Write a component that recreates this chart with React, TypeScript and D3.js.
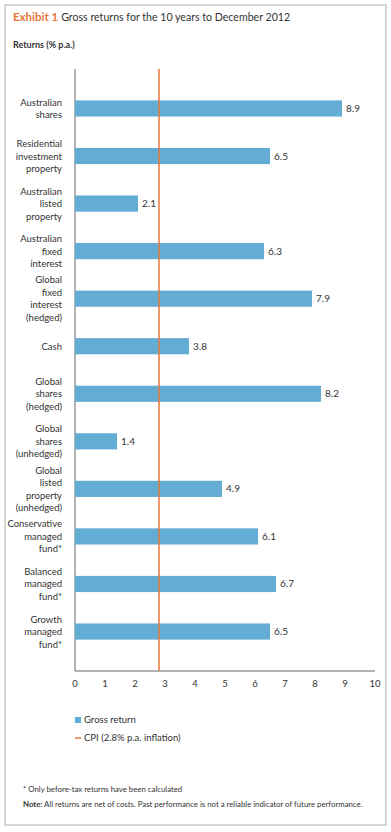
import React, { useEffect, useRef } from "react";
import * as d3 from "d3";

const categories = [
  ["Australian", "shares"],
  ["Residential", "investment", "property"],
  ["Australian", "listed", "property"],
  ["Australian", "fixed", "interest"],
  ["Global", "fixed", "interest", "(hedged)"],
  ["Cash"],
  ["Global", "shares", "(hedged)"],
  ["Global", "shares", "(unhedged)"],
  ["Global", "listed", "property", "(unhedged)"],
  ["Conservative", "managed", "fund*"],
  ["Balanced", "managed", "fund*"],
  ["Growth", "managed", "fund*"],
];
const grossReturns = [8.9, 6.5, 2.1, 6.3, 7.9, 3.8, 8.2, 1.4, 4.9, 6.1, 6.7, 6.5];
const xTicks = [0, 1, 2, 3, 4, 5, 6, 7, 8, 9, 10];
const cpi = 2.8;

const W = 391;
const H = 832;
const BLUE = "#63acd4";
const ORANGE = "#e8773a";
const FONT = "Lato, sans-serif";

const App = () => {
  const ref = useRef<SVGSVGElement>(null);

  useEffect(() => {
    const svg = d3.select(ref.current);
    svg.selectAll("*").remove();

    // frame
    svg.append("rect")
      .attr("x", 5).attr("y", 5).attr("width", 381).attr("height", 820)
      .attr("fill", "#fff").attr("stroke", "#c8c8c8").attr("stroke-width", 1.5);

    // title
    const title = svg.append("text").attr("x", 13).attr("y", 21)
      .attr("font-family", FONT).attr("font-size", 10.6).attr("fill", "#333");
    title.append("tspan").attr("fill", ORANGE).attr("font-weight", "bold").attr("font-size", 11.5).text("Exhibit 1");
    title.append("tspan").attr("dx", 3).text("Gross returns for the 10 years to December 2012");

    svg.append("text").attr("x", 13).attr("y", 48)
      .attr("font-family", FONT).attr("font-size", 9).attr("font-weight", "bold")
      .attr("fill", "#333").text("Returns (% p.a.)");

    const x = d3.scaleLinear().domain([0, 10]).range([75, 375]);
    const y = d3.scaleBand<number>()
      .domain(d3.range(categories.length))
      .range([69, 671])
      .padding(0.66);

    // axes lines
    svg.append("line").attr("x1", x(0)).attr("x2", x(0)).attr("y1", 69).attr("y2", 671)
      .attr("stroke", "#666").attr("stroke-width", 1);
    svg.append("line").attr("x1", x(0)).attr("x2", x(10)).attr("y1", 671).attr("y2", 671)
      .attr("stroke", "#666").attr("stroke-width", 1);

    svg.append("g").selectAll("text").data(xTicks).join("text")
      .attr("x", (d) => x(d)).attr("y", 687)
      .attr("text-anchor", "middle")
      .attr("font-family", FONT).attr("font-size", 9.5).attr("fill", "#333")
      .text((d) => d);

    // bars
    svg.append("g").selectAll("rect").data(grossReturns).join("rect")
      .attr("x", x(0))
      .attr("y", (_, i) => y(i)!)
      .attr("width", (d) => x(d) - x(0))
      .attr("height", y.bandwidth())
      .attr("fill", BLUE);

    svg.append("g").selectAll("text").data(grossReturns).join("text")
      .attr("x", (d) => x(d) + 4)
      .attr("y", (_, i) => y(i)! + y.bandwidth() / 2 + 3.5)
      .attr("font-family", FONT).attr("font-size", 10).attr("fill", "#333")
      .text((d) => d.toFixed(1));

    // category labels
    const lh = 12.5;
    categories.forEach((lines, i) => {
      const cy = y(i)! + y.bandwidth() / 2;
      const t = svg.append("text")
        .attr("text-anchor", "end")
        .attr("font-family", FONT).attr("font-size", 9.5).attr("fill", "#333");
      lines.forEach((l, j) => {
        t.append("tspan").attr("x", 62)
          .attr("y", cy + (j - (lines.length - 1) / 2) * lh + 3.5)
          .text(l);
      });
    });

    // CPI line
    svg.append("line").attr("x1", x(cpi)).attr("x2", x(cpi)).attr("y1", 69).attr("y2", 671)
      .attr("stroke", ORANGE).attr("stroke-width", 1.5);

    // legend
    svg.append("rect").attr("x", 75).attr("y", 717).attr("width", 6).attr("height", 6).attr("fill", BLUE);
    svg.append("text").attr("x", 84).attr("y", 723)
      .attr("font-family", FONT).attr("font-size", 9.5).attr("fill", "#333").text("Gross return");
    svg.append("line").attr("x1", 75).attr("x2", 81).attr("y1", 738).attr("y2", 738)
      .attr("stroke", ORANGE).attr("stroke-width", 1.5);
    svg.append("text").attr("x", 84).attr("y", 741)
      .attr("font-family", FONT).attr("font-size", 9.5).attr("fill", "#333").text("CPI (2.8% p.a. inflation)");

    // footnotes
    svg.append("text").attr("x", 23).attr("y", 792)
      .attr("font-family", FONT).attr("font-size", 7.8).attr("fill", "#333")
      .text("* Only before-tax returns have been calculated");
    const note = svg.append("text").attr("x", 23).attr("y", 807)
      .attr("font-family", FONT).attr("font-size", 7.8).attr("fill", "#333");
    note.append("tspan").attr("font-weight", "bold").text("Note:");
    note.append("tspan").text(" All returns are net of costs. Past performance is not a reliable indicator of future performance.");
  }, []);

  return (
    <div style={{ position: "absolute", left: 0, top: 0 }}>
      <svg ref={ref} width={W} height={H} style={{ display: "block" }} />
    </div>
  );
};

export default App;
